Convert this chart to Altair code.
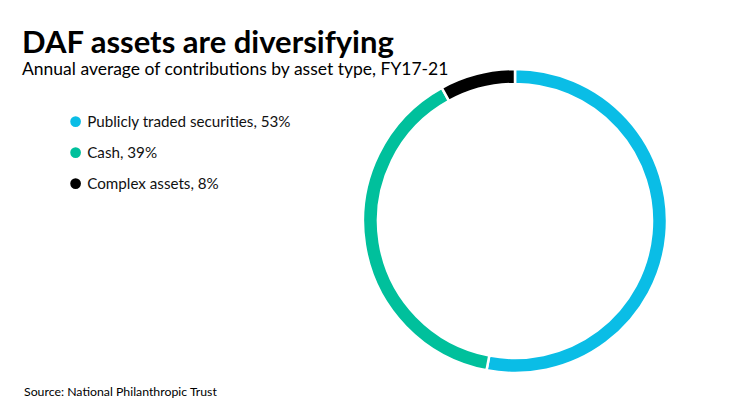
import altair as alt
import pandas as pd

categories = ["Publicly traded securities", "Cash", "Complex assets"]
shares = [53, 39, 8]
colors = ["#0ABDE6", "#00C09C", "#000000"]

labels = [f"{c}, {v}%" for c, v in zip(categories, shares)]
df = pd.DataFrame({"label": labels, "value": shares, "idx": list(range(len(shares)))})

W, H = 724, 400
CX, CY = 507, 213

donut = alt.Chart(df).mark_arc(
    outerRadius=152, innerRadius=137, stroke="white", strokeWidth=2.5
).encode(
    theta=alt.Theta("value:Q", stack=True),
    order=alt.Order("idx:Q"),
    color=alt.Color(
        "label:N",
        scale=alt.Scale(domain=labels, range=colors),
        sort=labels,
        legend=alt.Legend(
            title=None, orient="none", legendX=60, legendY=106,
            symbolType="circle", symbolSize=115, symbolStrokeWidth=0,
            labelFont="Lato", labelFontSize=15.2, labelColor="#111",
            labelOffset=4, rowPadding=15, labelLimit=400,
        ),
    ),
    x=alt.value(CX),
    y=alt.value(CY),
)

def txt(s, x, y, size, weight="normal"):
    return alt.Chart(pd.DataFrame({"t": [s]})).mark_text(
        align="left", baseline="alphabetic", font="Lato", fontSize=size,
        fontWeight=weight, color="#000"
    ).encode(text="t:N", x=alt.value(x), y=alt.value(y))

title = txt("DAF assets are diversifying", 14, 45, 31, "bold")
subtitle = txt("Annual average of contributions by asset type, FY17-21", 14, 67, 17.5)
source = txt("Source: National Philanthropic Trust", 16, 388, 12.3)

chart = alt.layer(donut, title, subtitle, source).properties(
    width=W, height=H, padding=0,
    autosize=alt.AutoSizeParams(type="fit", contains="padding"),
).configure_view(stroke=None)

chart.save("out.html", embed_options={"renderer": "svg", "actions": False})
